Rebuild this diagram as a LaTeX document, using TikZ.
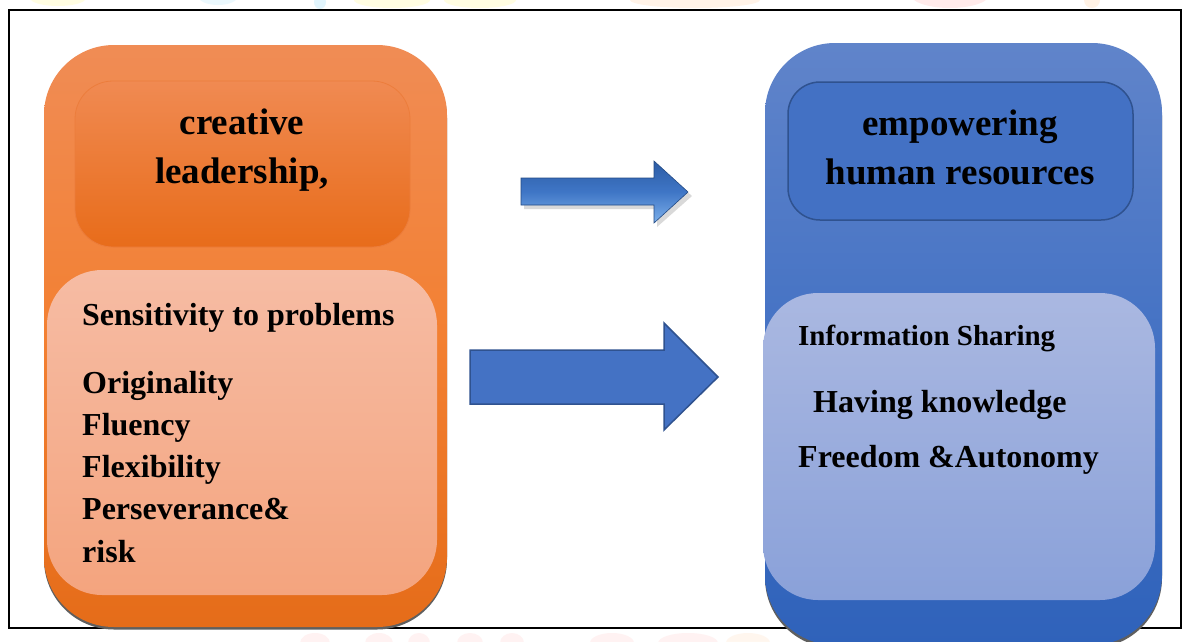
\documentclass[tikz,border=0pt]{standalone}
\usepackage{fontspec}
\setmainfont{Liberation Serif}
\definecolor{orA}{RGB}{240,140,85}
\definecolor{orB}{RGB}{243,128,50}
\definecolor{orC}{RGB}{229,108,25}
\definecolor{orInA}{RGB}{240,138,82}
\definecolor{orInB}{RGB}{232,108,26}
\definecolor{orEdge}{RGB}{236,125,60}
\definecolor{peA}{RGB}{246,188,164}
\definecolor{peB}{RGB}{244,164,126}
\definecolor{blA}{RGB}{96,132,202}
\definecolor{blB}{RGB}{68,114,196}
\definecolor{blC}{RGB}{47,98,186}
\definecolor{blFill}{RGB}{67,113,196}
\definecolor{blEdge}{RGB}{47,82,143}
\definecolor{lbA}{RGB}{170,184,225}
\definecolor{lbB}{RGB}{138,161,217}
\definecolor{arA}{RGB}{44,92,165}
\definecolor{arM}{RGB}{63,118,198}
\definecolor{arB}{RGB}{125,176,234}
\definecolor{shadowgray}{RGB}{95,95,95}
\tikzset{
  titletxt/.style={font={\bfseries\fontsize{37}{44}\selectfont}, inner sep=0pt, anchor=base},
  itemtxt/.style={font={\bfseries\fontsize{32}{38}\selectfont}, inner sep=0pt, anchor=base west},
  smalltxt/.style={font={\bfseries\fontsize{29}{35}\selectfont}, inner sep=0pt, anchor=base west},
  wm/.style={fill opacity=0.25},
  boxshadow/.style={fill=shadowgray},
  blockarrow/.style={fill=blB, draw=blEdge, line width=1.5pt, line join=miter}
}
\begin{document}
\begin{tikzpicture}[x=1pt,y=-1pt]
\useasboundingbox (0,0) rectangle (1189,641);
\fill[white] (0,0) rectangle (1189,641);
% watermark fragments
\fill[wm, yellow!45] (58,-2) ellipse (28 and 8);
\fill[wm, cyan!30] (218,-4) ellipse (20 and 9);
\fill[wm, cyan!45] (320,2) ellipse (6 and 7);
\fill[wm, yellow!45] (392,0) ellipse (38 and 8);
\fill[wm, yellow!45] (480,0) ellipse (36 and 8);
\fill[wm, orange!35] (695,0) ellipse (65 and 8);
\fill[wm, red!30] (950,-6) ellipse (40 and 14);
\fill[wm, orange!40] (1092,0) ellipse (8 and 8);
\fill[wm, red!20] (315,643) ellipse (15 and 10);
\fill[wm, red!20] (379,643) ellipse (14 and 10);
\fill[wm, red!20] (419,643) ellipse (11 and 10);
\fill[wm, red!20] (470,643) ellipse (13 and 10);
\fill[wm, red!20] (512,643) ellipse (12 and 10);
\fill[wm, red!20] (612,643) ellipse (22 and 10);
\fill[wm, red!20] (688,643) ellipse (30 and 10);
\fill[wm, orange!25] (748,643) ellipse (22 and 10);
% frame
\draw[line width=2pt] (9,10) rectangle (1181,628);
% left column
\fill[boxshadow, rounded corners=70pt] (44,48) rectangle (447,629.5);
\path[rounded corners=70pt, top color=orA, bottom color=orC, middle color=orB] (44,45) rectangle (447,627);
\path[rounded corners=38pt, top color=orInA, bottom color=orInB, draw=orEdge, line width=0.8pt] (75,81) rectangle (410,247);
\path[rounded corners=55pt, top color=peA, bottom color=peB] (47,270) rectangle (437,595);
\node[titletxt] (lt1) at (242,134) {creative};
\node[titletxt] (lt2) at (242,183) {leadership,};
\node[itemtxt] (l1) at (82,325) {Sensitivity to problems};
\node[itemtxt] (l2) at (82,393) {Originality};
\node[itemtxt] (l3) at (82,435) {Fluency};
\node[itemtxt] (l4) at (82,477) {Flexibility};
\node[itemtxt] (l5) at (82,519) {Perseverance\&};
\node[itemtxt] (l6) at (82,562) {risk};
% right column
\fill[boxshadow, rounded corners=70pt] (765,46) rectangle (1162,648);
\path[rounded corners=70pt, top color=blA, bottom color=blC, middle color=blB] (765,43) rectangle (1162,645);
\path[rounded corners=32pt, fill=blFill, draw=blEdge, line width=1.5pt] (788,82) rectangle (1133,220);
\path[rounded corners=55pt, top color=lbA, bottom color=lbB] (763,293) rectangle (1155,600);
\node[titletxt] (rt1) at (960,135) {empowering};
\node[titletxt] (rt2) at (960,184) {human resources};
\node[smalltxt] (r1) at (798,345) {Information Sharing};
\node[itemtxt] (r2) at (813,412) {Having knowledge};
\node[itemtxt] (r3) at (798,467) {Freedom \&Autonomy};
% upper glossy arrow
\fill[black, opacity=0.15] (524,182) -- (657,182) -- (657,165) -- (692,196) -- (657,227) -- (657,209) -- (524,209) -- cycle;
\path[top color=arA, bottom color=arB, middle color=arM] (521,178) -- (654,178) -- (654,161) -- (688,192) -- (654,223) -- (654,205) -- (521,205) -- cycle;
\draw[arA!80!black, line width=0.6pt] (521,178) -- (654,178) -- (654,161) -- (688,192) -- (654,223) -- (654,205) -- (521,205) -- cycle;
% lower flat arrow
\path[blockarrow] (470,350) -- (664,350) -- (664,323) -- (718,377) -- (664,430) -- (664,404) -- (470,404) -- cycle;
\end{tikzpicture}
\end{document}
